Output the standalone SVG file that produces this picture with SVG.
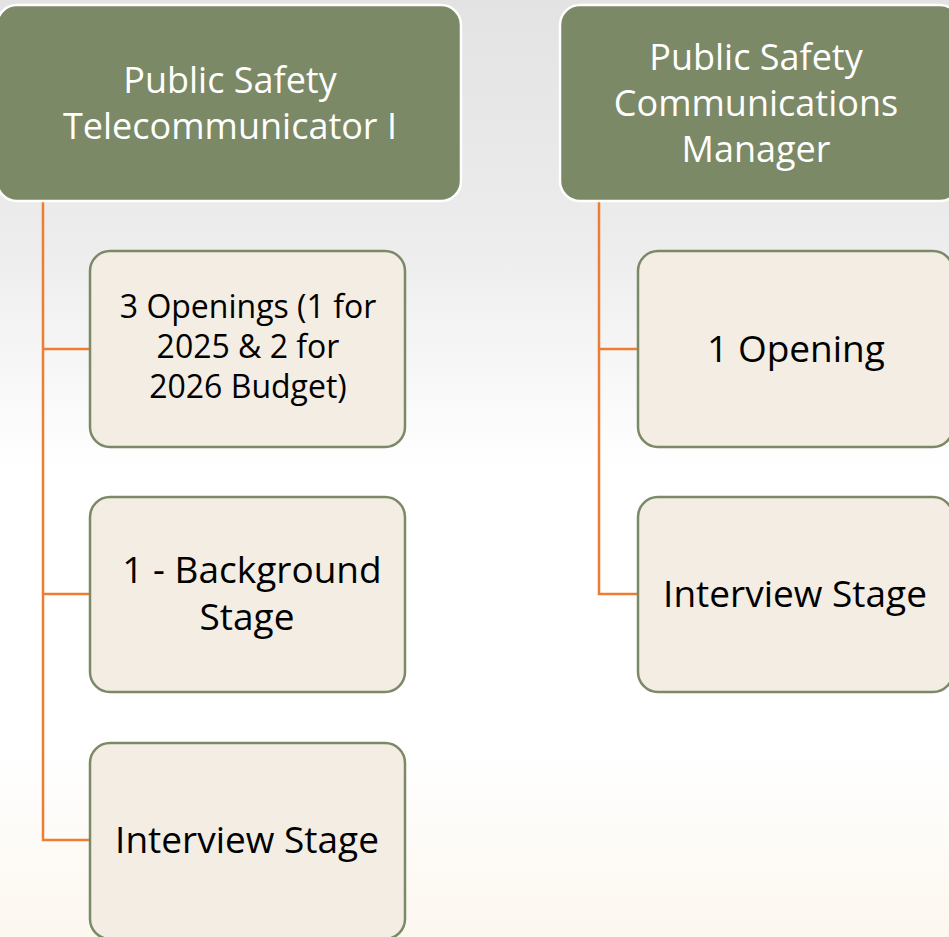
<svg xmlns="http://www.w3.org/2000/svg" width="949" height="937" viewBox="0 0 949 937">
<defs>
<linearGradient id="bg" x1="0" y1="0" x2="0" y2="1">
<stop offset="0" stop-color="#E3E3E3"/>
<stop offset="0.25" stop-color="#ECECEC"/>
<stop offset="0.5" stop-color="#FFFFFF"/>
<stop offset="0.8" stop-color="#FFFFFF"/>
<stop offset="1" stop-color="#FCF7EF"/>
</linearGradient>
<style>
.hdr{fill:#7C8966;stroke:#FFFFFF;stroke-width:2.5}
.child{fill:#F3EDE4;stroke:#7C8966;stroke-width:2.5}
.ht{font-family:"Open Sans","Liberation Sans",sans-serif;font-size:36px;fill:#FFFFFF;text-anchor:middle}
.ct{font-family:"Open Sans","Liberation Sans",sans-serif;fill:#000000;text-anchor:middle}
.m{font-size:32px}
.s{font-size:37px}
.conn{fill:none;stroke:#ED7D31;stroke-width:2.5}
</style>
</defs>
<rect x="0" y="0" width="949" height="937" fill="url(#bg)"/>
<g id="connectors">
<path class="conn" d="M43 201 V840 H90 M43 349 H90 M43 594 H90"/>
<path class="conn" d="M599 201 V594 H638 M599 349 H638"/>
</g>
<g id="node-telecommunicator">
<rect class="hdr" x="-3" y="5" width="464" height="196" rx="20"/>
<text class="ht" x="230" y="93">Public Safety</text>
<text class="ht" x="230" y="139">Telecommunicator I</text>
</g>
<g id="node-manager">
<rect class="hdr" x="560" y="5" width="400" height="196" rx="20"/>
<text class="ht" x="756" y="70">Public Safety</text>
<text class="ht" x="756" y="116">Communications</text>
<text class="ht" x="756" y="162">Manager</text>
</g>
<g id="node-openings3">
<rect class="child" x="90" y="251" width="315" height="196" rx="20"/>
<text class="ct m" x="248" y="318">3 Openings (1 for</text>
<text class="ct m" x="248" y="358">2025 &amp; 2 for</text>
<text class="ct m" x="248" y="398">2026 Budget)</text>
</g>
<g id="node-background">
<rect class="child" x="90" y="497" width="315" height="195" rx="20"/>
<text class="ct s" x="252" y="583">1 - Background</text>
<text class="ct s" x="247" y="630">Stage</text>
</g>
<g id="node-interview-left">
<rect class="child" x="90" y="743" width="315" height="196" rx="20"/>
<text class="ct s" x="247" y="853">Interview Stage</text>
</g>
<g id="node-opening1">
<rect class="child" x="638" y="251" width="315" height="196" rx="20"/>
<text class="ct s" x="796" y="362">1 Opening</text>
</g>
<g id="node-interview-right">
<rect class="child" x="638" y="497" width="315" height="195" rx="20"/>
<text class="ct s" x="795" y="607">Interview Stage</text>
</g>
</svg>
